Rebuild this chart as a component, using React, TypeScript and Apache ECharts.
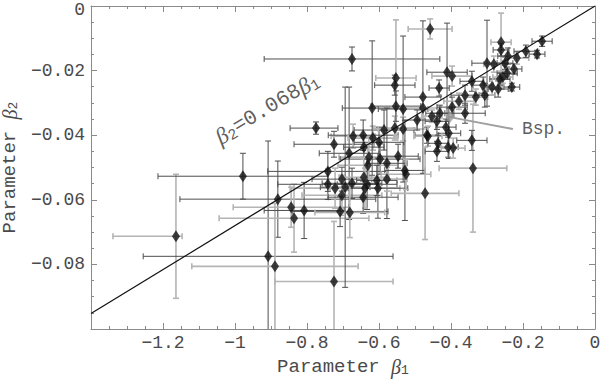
import React, { useEffect, useRef } from 'react';
import * as echarts from 'echarts';

// Parameter β1 (x) and β2 (y) of each measurement
const beta1 = [
  -1.164, -0.978, -0.881, -0.908, -0.889, -0.725, -0.844, -0.836, -0.808, -0.775,
  -0.725, -0.742, -0.675, -0.683, -0.672, -0.644, -0.617, -0.586, -0.556, -0.642,
  -0.600, -0.628, -0.597, -0.631, -0.578, -0.742, -0.722, -0.703, -0.694, -0.703,
  -0.675, -0.642, -0.633, -0.606, -0.578, -0.639, -0.603, -0.644, -0.708, -0.681,
  -0.619, -0.553, -0.556, -0.553, -0.547, -0.533, -0.533, -0.528, -0.525, -0.478,
  -0.478, -0.494, -0.467, -0.458, -0.472, -0.339, -0.342, -0.431, -0.453, -0.439,
  -0.414, -0.406, -0.464, -0.436, -0.439, -0.408, -0.394, -0.411, -0.397, -0.433,
  -0.397, -0.378, -0.361, -0.361, -0.331, -0.306, -0.311, -0.286, -0.269, -0.342,
  -0.300, -0.281, -0.250, -0.264, -0.256, -0.244, -0.225, -0.231, -0.261, -0.261,
  -0.242, -0.217, -0.192, -0.161, -0.147,
];
const beta2 = [
  -0.0713, -0.0527, -0.0598, -0.0775, -0.0806, -0.0853, -0.0623, -0.0657, -0.0633, -0.0378,
  -0.0428, -0.0512, -0.0164, -0.0456, -0.0403, -0.0400, -0.0409, -0.0384, -0.0378, -0.0437,
  -0.0422, -0.0468, -0.0474, -0.0493, -0.0487, -0.0552, -0.0564, -0.0536, -0.0561, -0.0586,
  -0.0549, -0.0530, -0.0552, -0.0540, -0.0536, -0.0564, -0.0564, -0.0592, -0.0636, -0.0639,
  -0.0316, -0.0223, -0.0245, -0.0310, -0.0465, -0.0319, -0.0381, -0.0509, -0.0521, -0.0282,
  -0.0316, -0.0353, -0.0400, -0.0071, -0.0580, -0.0502, -0.0416, -0.0332, -0.0341, -0.0357,
  -0.0375, -0.0394, -0.0403, -0.0425, -0.0450, -0.0437, -0.0440, -0.0205, -0.0217, -0.0254,
  -0.0313, -0.0295, -0.0276, -0.0332, -0.0282, -0.0276, -0.0245, -0.0251, -0.0257, -0.0233,
  -0.0177, -0.0180, -0.0177, -0.0226, -0.0220, -0.0208, -0.0195, -0.0251, -0.0112, -0.0136,
  -0.0155, -0.0161, -0.0140, -0.0149, -0.0109,
];
// Error of β1 towards more negative values / towards zero
const beta1ErrLo = [
  0.175, 0.236, 0.272, 0.347, 0.231, 0.164, 0.161, 0.208, 0.111, 0.072,
  0.111, 0.167, 0.244, 0.083, 0.061, 0.097, 0.069, 0.083, 0.061, 0.056,
  0.069, 0.083, 0.111, 0.083, 0.056, 0.139, 0.125, 0.083, 0.069, 0.111,
  0.083, 0.069, 0.083, 0.056, 0.056, 0.097, 0.083, 0.097, 0.133, 0.097,
  0.083, 0.056, 0.056, 0.069, 0.056, 0.069, 0.069, 0.056, 0.069, 0.050,
  0.050, 0.039, 0.033, 0.061, 0.094, 0.094, 0.042, 0.039, 0.028, 0.033,
  0.028, 0.033, 0.039, 0.028, 0.033, 0.028, 0.033, 0.056, 0.056, 0.028,
  0.042, 0.042, 0.039, 0.056, 0.033, 0.028, 0.028, 0.028, 0.028, 0.033,
  0.042, 0.028, 0.022, 0.028, 0.028, 0.028, 0.022, 0.022, 0.028, 0.022,
  0.028, 0.033, 0.033, 0.022, 0.028,
];
const beta1ErrHi = [
  0.017, 0.236, 0.272, 0.347, 0.231, 0.164, 0.161, 0.208, 0.111, 0.061,
  0.111, 0.167, 0.244, 0.083, 0.061, 0.097, 0.069, 0.083, 0.061, 0.056,
  0.069, 0.083, 0.111, 0.083, 0.056, 0.139, 0.125, 0.083, 0.069, 0.111,
  0.083, 0.069, 0.083, 0.056, 0.056, 0.097, 0.083, 0.097, 0.133, 0.097,
  0.083, 0.056, 0.056, 0.069, 0.056, 0.069, 0.069, 0.056, 0.069, 0.050,
  0.050, 0.039, 0.033, 0.061, 0.094, 0.094, 0.042, 0.039, 0.028, 0.033,
  0.028, 0.033, 0.039, 0.028, 0.033, 0.028, 0.033, 0.056, 0.056, 0.028,
  0.042, 0.042, 0.039, 0.056, 0.033, 0.028, 0.028, 0.028, 0.028, 0.033,
  0.042, 0.028, 0.022, 0.028, 0.028, 0.028, 0.022, 0.022, 0.028, 0.022,
  0.028, 0.033, 0.033, 0.022, 0.028,
];
// Symmetric error of β2
const beta2Err = [
  0.0192, 0.0071, 0.0118, 0.0357, 0.0195, 0.0186, 0.0062, 0.0105, 0.0087, 0.0019,
  0.0040, 0.0062, 0.0037, 0.0205, 0.0037, 0.0047, 0.0037, 0.0062, 0.0037, 0.0031,
  0.0047, 0.0062, 0.0047, 0.0056, 0.0171, 0.0047, 0.0062, 0.0037, 0.0310, 0.0062,
  0.0047, 0.0056, 0.0078, 0.0047, 0.0037, 0.0062, 0.0093, 0.0050, 0.0047, 0.0078,
  0.0208, 0.0180, 0.0031, 0.0047, 0.0037, 0.0226, 0.0037, 0.0155, 0.0047, 0.0236,
  0.0031, 0.0031, 0.0025, 0.0031, 0.0143, 0.0198, 0.0031, 0.0025, 0.0019, 0.0025,
  0.0025, 0.0078, 0.0031, 0.0025, 0.0031, 0.0031, 0.0031, 0.0152, 0.0031, 0.0025,
  0.0031, 0.0025, 0.0031, 0.0031, 0.0025, 0.0037, 0.0025, 0.0025, 0.0025, 0.0031,
  0.0133, 0.0025, 0.0019, 0.0019, 0.0019, 0.0019, 0.0016, 0.0012, 0.0090, 0.0019,
  0.0025, 0.0019, 0.0019, 0.0012, 0.0016,
];
// 0 = dark error bar, 1 = light error bar
const barShade = [
  1, 0, 0, 0, 1, 1, 1, 1, 0, 0,
  0, 0, 0, 0, 1, 0, 1, 0, 1, 0,
  0, 1, 0, 1, 0, 0, 1, 0, 0, 1,
  0, 1, 0, 0, 1, 1, 0, 0, 0, 1,
  0, 1, 0, 0, 0, 0, 1, 0, 1, 0,
  1, 0, 0, 1, 1, 1, 0, 0, 1, 0,
  0, 0, 1, 0, 0, 0, 1, 0, 1, 0,
  0, 1, 0, 0, 1, 0, 0, 1, 0, 0,
  0, 1, 0, 0, 1, 0, 0, 0, 1, 0,
  0, 1, 0, 0, 0,
];

// Example point ("Bsp.")
const exampleBeta1 = -0.403;
const exampleBeta2 = -0.0344;
const exampleLabelAt = [-0.228, -0.0381];

// Fit line β2 = 0.068 β1
const fitSlope = 0.068;
const fitBeta1 = [-1.4, 0];
const formulaLabelAt = [-0.911, -0.0318];

const xTicks = { min: -1.4, max: 0, step: 0.2 };
const yTicks = { min: -0.1, max: 0, step: 0.02 };

const MONO = "'Liberation Mono', 'DejaVu Sans Mono', monospace";
const SERIF = "'Liberation Serif', 'DejaVu Serif', serif";

const fmt = (v: number, dec: number, hide: number) => {
  if (Math.abs(v - hide) < 1e-9) return '';
  const r = Math.round(v * Math.pow(10, dec)) / Math.pow(10, dec);
  return String(r).replace('-', '\u2212');
};

export default function App() {
  const ref = useRef<HTMLDivElement>(null);
  useEffect(() => {
    if (!ref.current) return;
    const chart = echarts.init(ref.current, undefined, { renderer: 'svg' });

    const barData = beta1.map((x, i) => [
      x,
      beta2[i],
      x - beta1ErrLo[i],
      x + beta1ErrHi[i],
      beta2[i] - beta2Err[i],
      beta2[i] + beta2Err[i],
      barShade[i],
    ]);
    const pts = beta1.map((x, i) => [x, beta2[i]]);
    const fitData = fitBeta1.map((x) => [x, fitSlope * x]);

    const frame = '#8a8a8a';
    const labelColor = '#4a4a4a';
    const rich = {
      b: { fontFamily: SERIF, fontStyle: 'italic', fontSize: 20, color: labelColor },
      s: { fontFamily: MONO, fontSize: 13, color: labelColor, verticalAlign: 'bottom', padding: [7, 0, 0, 0] },
    };

    const axisCommon = () => ({
      axisLine: { onZero: false, lineStyle: { color: frame, width: 1 } },
      axisTick: { inside: true, length: 6, lineStyle: { color: frame } },
      minorTick: { show: true, splitNumber: 4, length: 3, lineStyle: { color: frame } },
      splitLine: { show: false },
      minorSplitLine: { show: false },
    });

    chart.setOption({
      animation: false,
      backgroundColor: '#ffffff',
      grid: { left: 91, right: 5, top: 6, bottom: 51, containLabel: false, outerBoundsMode: 'none' },
      xAxis: [
        {
          type: 'value', min: xTicks.min, max: xTicks.max, interval: xTicks.step, position: 'bottom',
          ...axisCommon(),
          axisLabel: {
            formatter: (v: number) => fmt(v, 2, xTicks.min),
            fontFamily: MONO, fontSize: 18, color: labelColor, margin: 5,
          },
          name: 'Parameter {b|β}{s|1}', nameLocation: 'middle', nameGap: 20,
          nameTextStyle: { fontFamily: MONO, fontSize: 19, color: labelColor, rich },
        },
        {
          type: 'value', min: xTicks.min, max: xTicks.max, interval: xTicks.step, position: 'top',
          ...axisCommon(),
          axisLabel: { show: false },
        },
      ],
      yAxis: [
        {
          type: 'value', min: yTicks.min, max: yTicks.max, interval: yTicks.step, position: 'left',
          ...axisCommon(),
          axisLabel: {
            formatter: (v: number) =>
              Math.abs(v - yTicks.max) < 1e-9 ? '{top|0}' : fmt(v, 4, yTicks.min),
            fontFamily: MONO, fontSize: 18, color: labelColor, margin: 6,
            rich: { top: { fontFamily: MONO, fontSize: 18, color: labelColor, padding: [7, 0, 0, 0] } },
          },
          name: 'Parameter {b|β}{s|2}', nameLocation: 'middle', nameGap: 66,
          nameTextStyle: { fontFamily: MONO, fontSize: 19, color: labelColor, rich },
        },
        {
          type: 'value', min: yTicks.min, max: yTicks.max, interval: yTicks.step, position: 'right',
          ...axisCommon(),
          axisLabel: { show: false },
        },
      ],
      series: [
        {
          type: 'custom',
          z: 1,
          silent: true,
          clip: true,
          encode: { x: 0, y: 1 },
          data: barData,
          renderItem: (params: any, api: any) => {
            const x = api.value(0), y = api.value(1);
            const shade = api.value(6);
            const cs = params.coordSys;
            const L = cs.x, R = cs.x + cs.width, T = cs.y, B = cs.y + cs.height;
            const c = api.coord([x, y]);
            const xl = api.coord([api.value(2), y])[0];
            const xh = api.coord([api.value(3), y])[0];
            const yl = api.coord([x, api.value(4)])[1];
            const yh = api.coord([x, api.value(5)])[1];
            const style = {
              stroke: shade ? '#b4b4b4' : '#4e4e4e',
              lineWidth: shade ? 1.6 : 1,
              fill: null,
            };
            const cl = (v: number, a: number, b: number) => Math.max(a, Math.min(b, v));
            const cap = 3;
            const ch: any[] = [];
            ch.push({ type: 'line', shape: { x1: cl(xl, L, R), y1: c[1], x2: cl(xh, L, R), y2: c[1] }, style });
            if (xl >= L) ch.push({ type: 'line', shape: { x1: xl, y1: c[1] - cap, x2: xl, y2: c[1] + cap }, style });
            if (xh <= R) ch.push({ type: 'line', shape: { x1: xh, y1: c[1] - cap, x2: xh, y2: c[1] + cap }, style });
            ch.push({ type: 'line', shape: { x1: c[0], y1: cl(yl, T, B), x2: c[0], y2: cl(yh, T, B) }, style });
            if (yl <= B) ch.push({ type: 'line', shape: { x1: c[0] - cap, y1: yl, x2: c[0] + cap, y2: yl }, style });
            if (yh >= T) ch.push({ type: 'line', shape: { x1: c[0] - cap, y1: yh, x2: c[0] + cap, y2: yh }, style });
            return { type: 'group', children: ch };
          },
        },
        {
          type: 'line',
          z: 2,
          silent: true,
          data: [[exampleBeta1, exampleBeta2], exampleLabelAt],
          symbol: 'none',
          lineStyle: { color: '#a0a0a0', width: 2 },
        },
        {
          type: 'line',
          z: 3,
          silent: true,
          data: fitData,
          symbol: 'none',
          lineStyle: { color: '#111', width: 1.2 },
        },
        {
          type: 'scatter',
          z: 4,
          silent: true,
          data: pts,
          symbol: 'diamond',
          symbolSize: [8, 12],
          itemStyle: { color: '#111' },
        },
        {
          type: 'scatter',
          z: 4,
          silent: true,
          data: [[exampleBeta1, exampleBeta2]],
          symbol: 'diamond',
          symbolSize: [9, 12],
          itemStyle: { color: '#9a9a9a' },
        },
        {
          type: 'scatter',
          z: 5,
          silent: true,
          data: [exampleLabelAt],
          symbolSize: 0,
          label: {
            show: true, position: 'right', distance: 9, formatter: 'Bsp.',
            fontFamily: MONO, fontSize: 18, color: '#333',
          },
        },
        {
          type: 'scatter',
          z: 5,
          silent: true,
          data: [formulaLabelAt],
          symbolSize: 0,
          label: {
            show: true, position: 'inside', rotate: 31,
            formatter: '{b|β}{s|2}{t|=0.068}{b|β}{s|1}',
            rich: {
              b: { fontFamily: SERIF, fontStyle: 'italic', fontSize: 23, color: '#333' },
              s: { fontFamily: MONO, fontSize: 15, color: '#333', verticalAlign: 'bottom', padding: [11, 0, 0, 0] },
              t: { fontFamily: MONO, fontSize: 21, color: '#333' },
            },
          },
        },
      ],
    });
    return () => chart.dispose();
  }, []);
  return (
    <div
      ref={ref}
      style={{ position: 'fixed', left: 0, top: 0, width: 600, height: 380, background: '#fff' }}
    />
  );
}
